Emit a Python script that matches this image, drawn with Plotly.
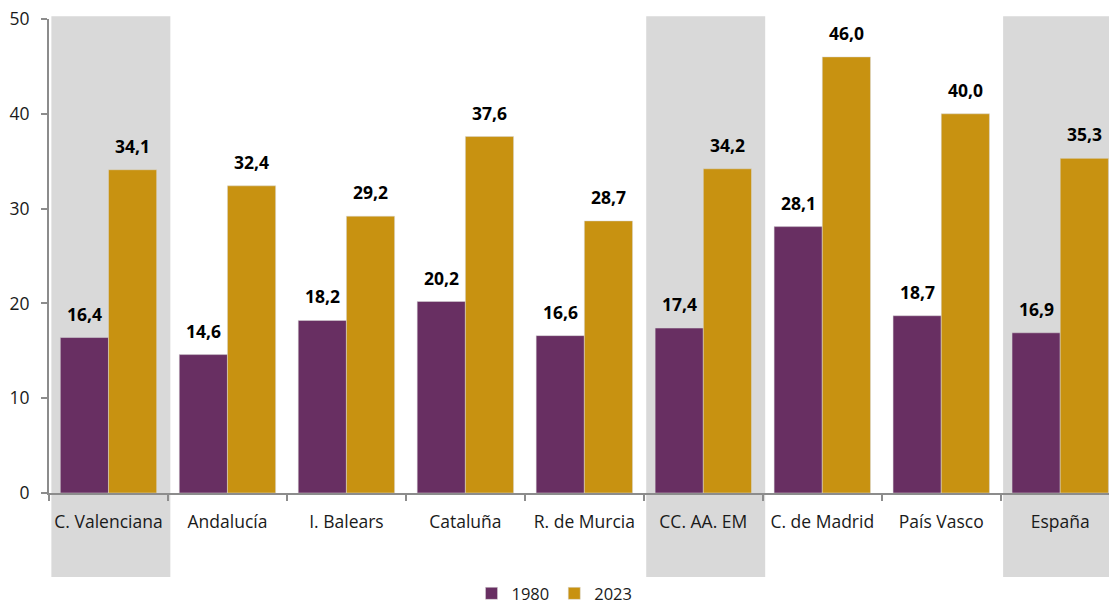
import plotly.graph_objects as go

# Values per region, 1980 vs 2023
regiones = ['C. Valenciana', 'Andalucía', 'I. Balears', 'Cataluña', 'R. de Murcia',
            'CC. AA. EM', 'C. de Madrid', 'País Vasco', 'España']
v1980 = [16.4, 14.6, 18.2, 20.2, 16.6, 17.4, 28.1, 18.7, 16.9]
v2023 = [34.1, 32.4, 29.2, 37.6, 28.7, 34.2, 46.0, 40.0, 35.3]
destacadas = ['C. Valenciana', 'CC. AA. EM', 'España']  # grey background columns

FONT = 'Open Sans'
FS = 17.5

fig = go.Figure()
fig.add_trace(go.Bar(x=regiones, y=v1980, name='1980', marker_color='#682F62',
                     marker_line=dict(color='#D9D9D9', width=0.5)))
fig.add_trace(go.Bar(x=regiones, y=v2023, name='2023', marker_color='#C89211',
                     marker_line=dict(color='#D9D9D9', width=0.5)))

# value labels above each bar (bars are ~48px wide, so shift half a bar each side)
for serie, dx in ((v1980, -24), (v2023, 24)):
    for r, v in zip(regiones, serie):
        fig.add_annotation(x=r, y=v, xref='x', yref='y', xshift=dx, yshift=10,
                           yanchor='bottom', showarrow=False,
                           text='<b>' + f'{v:.1f}'.replace('.', ',') + '</b>',
                           font=dict(family=FONT, size=FS, color='#000000'))

# grey highlight boxes behind some categories (extend under the tick labels)
for r in destacadas:
    i = regiones.index(r)
    fig.add_shape(type='rect', xref='x', yref='paper',
                  x0=i - 0.48, x1=i + 0.52, y0=-0.177, y1=1.006,
                  fillcolor='#D9D9D9', line_width=0, layer='below')

fig.update_layout(
    width=1109, height=607,
    margin=dict(l=49, r=0, t=19, b=114, autoexpand=False),
    plot_bgcolor='white', paper_bgcolor='white',
    barmode='group', bargap=0.19, bargroupgap=0,
    font=dict(family=FONT, size=FS, color='#1a1a1a'),
    showlegend=True,
    legend=dict(orientation='h', xref='container', yref='container',
                x=0.5, xanchor='center', y=0.022, yanchor='middle',
                font=dict(size=16.5), itemwidth=30),
)
fig.update_xaxes(
    range=[-0.5, 8.41], showgrid=False, automargin=False,
    showline=True, linecolor='#8C8C8C', linewidth=2,
    ticks='outside', tickson='boundaries', ticklen=6, tickcolor='#8C8C8C', tickwidth=2,
    tickfont=dict(size=FS, color='#1a1a1a'), ticklabelstandoff=12,
)
fig.update_yaxes(
    range=[0, 50], dtick=10, showgrid=False, zeroline=False, automargin=False,
    showline=True, linecolor='#8C8C8C', linewidth=2,
    ticks='outside', ticklen=6, tickcolor='#8C8C8C', tickwidth=2,
    tickfont=dict(size=FS, color='#1a1a1a'), ticklabelstandoff=8,
)

# the page body has an 8px default margin; drop it so the figure fills the window
fig.write_html('out.html', config={'displayModeBar': False},
               post_script="document.body.style.margin='0';")
